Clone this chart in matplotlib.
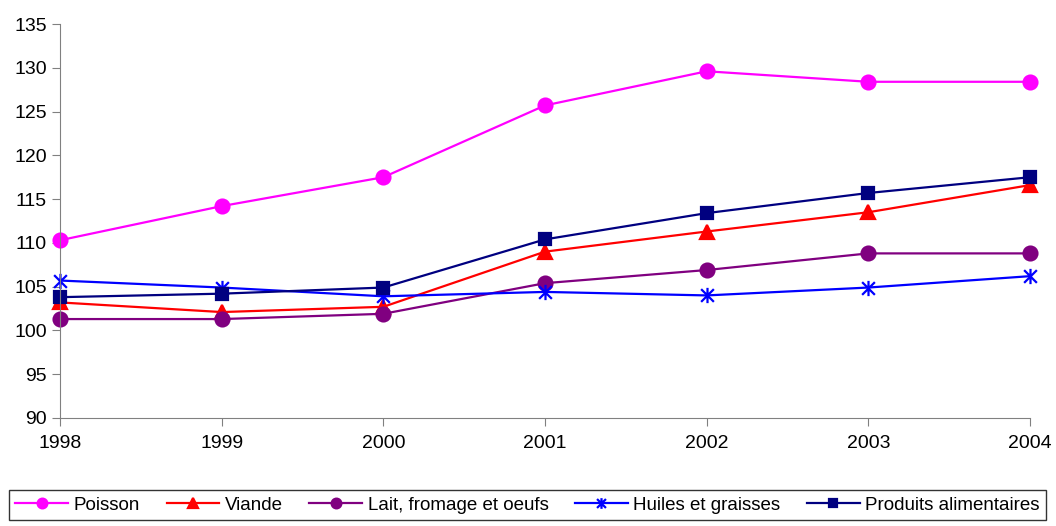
import matplotlib
matplotlib.use("Agg")
import matplotlib.pyplot as plt
from matplotlib.path import Path

plt.rcParams['font.family'] = ['Liberation Sans', 'DejaVu Sans']

years = [1998, 1999, 2000, 2001, 2002, 2003, 2004]
poisson = [110.3, 114.2, 117.5, 125.7, 129.6, 128.4, 128.4]
viande = [103.2, 102.1, 102.7, 109.0, 111.3, 113.5, 116.6]
lait = [101.3, 101.3, 101.9, 105.4, 106.9, 108.8, 108.8]
huiles = [105.7, 104.9, 103.9, 104.4, 104.0, 104.9, 106.2]
produits = [103.8, 104.2, 104.9, 110.4, 113.4, 115.7, 117.5]

labels = ["Poisson", "Viande", "Lait, fromage et oeufs",
          "Huiles et graisses", "Produits alimentaires"]
yticks = [90, 95, 100, 105, 110, 115, 120, 125, 130, 135]

# excel style asterisk: an X plus a vertical bar
asterisk = Path([(-1, -1), (1, 1), (-1, 1), (1, -1), (0, -1.2), (0, 1.2)],
                [Path.MOVETO, Path.LINETO, Path.MOVETO, Path.LINETO, Path.MOVETO, Path.LINETO])

fig = plt.figure(figsize=(10.56, 5.26), dpi=100)
ax = fig.add_axes([60 / 1056, 1 - 418 / 526, 970 / 1056, 394 / 526])

# series: values, colour, marker, size
series = [
    (poisson, "#FF00FF", "o", 10),
    (viande, "#FF0000", "^", 10),
    (lait, "#800080", "o", 10),
    (huiles, "#0000FF", asterisk, 11),
    (produits, "#000080", "s", 9),
]
for (vals, col, mk, ms), lab in zip(series, labels):
    ax.plot(years, vals, color=col, marker=mk, markersize=ms, lw=1.6,
            markeredgecolor=col, markerfacecolor=col, markeredgewidth=1.6,
            label=lab, clip_on=False)

ax.set_xlim(1998, 2004)
ax.set_ylim(90, 135)
ax.set_xticks(years)
ax.set_yticks(yticks)
ax.tick_params(labelsize=14, length=6, color="#808080")
ax.tick_params(axis="x", pad=6)
for s in ["top", "right"]:
    ax.spines[s].set_visible(False)
for s in ["left", "bottom"]:
    ax.spines[s].set_color("#808080")

leg = fig.legend(loc="lower left", bbox_to_anchor=(5 / 1056, 2 / 526, 1045 / 1056, 36 / 526),
                 mode="expand", ncol=5, fontsize=13.5, frameon=True, fancybox=False,
                 handlelength=2.8, handletextpad=0.3, columnspacing=0.6,
                 borderpad=0.35, borderaxespad=0.2, markerscale=0.7)
leg.get_frame().set_edgecolor("black")
leg.get_frame().set_linewidth(1.0)

fig.savefig("out.png", dpi=100)
